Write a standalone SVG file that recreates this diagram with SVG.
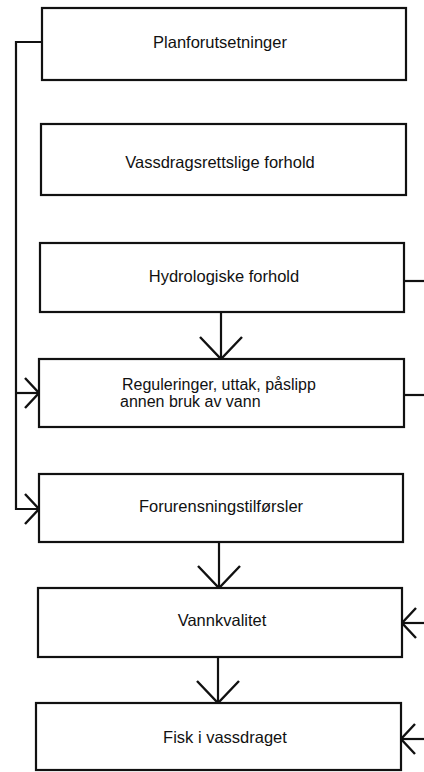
<svg xmlns="http://www.w3.org/2000/svg" width="424" height="772" viewBox="0 0 424 772">
<style>
.box{fill:#fff;stroke:#111;stroke-width:2.2}
.lbl{font-family:"Liberation Sans",Arial,sans-serif;font-size:16.5px;fill:#111;text-anchor:middle}
.lbl2{font-family:"Liberation Sans",Arial,sans-serif;font-size:16px;fill:#111}
.con{fill:none;stroke:#111;stroke-width:2.2}
</style>
<defs>
<marker id="big" markerUnits="userSpaceOnUse" viewBox="-25 -25 28 50" markerWidth="28" markerHeight="50" refX="0" refY="0" orient="auto" overflow="visible">
<path d="M-22,-21 L0,0 L-22,21" fill="none" stroke="#111" stroke-width="2.4"/>
</marker>
<marker id="small" markerUnits="userSpaceOnUse" viewBox="-18 -18 20 36" markerWidth="20" markerHeight="36" refX="0" refY="0" orient="auto" overflow="visible">
<path d="M-14,-15 L0,0 L-14,15" fill="none" stroke="#111" stroke-width="2.4"/>
</marker>
</defs>
<rect width="424" height="772" fill="#fff"/>
<g id="connectors">
<path class="con" d="M42,42 H16 V509 H39" marker-end="url(#small)"/>
<path class="con" d="M16,393 H39" marker-end="url(#small)"/>
<path class="con" d="M404,281 H424"/>
<path class="con" d="M404,395 H424"/>
<path class="con" d="M424,623 H402" marker-end="url(#small)"/>
<path class="con" d="M424,739 H401" marker-end="url(#small)"/>
<path class="con" d="M221,312 V359" marker-end="url(#big)"/>
<path class="con" d="M219,542 V588" marker-end="url(#big)"/>
<path class="con" d="M218,657 V703" marker-end="url(#big)"/>
</g>
<g id="n1"><rect class="box" x="42" y="8" width="364" height="72"/><text class="lbl" x="220" y="48">Planforutsetninger</text></g>
<g id="n2"><rect class="box" x="41" y="124" width="365" height="71"/><text class="lbl" x="220" y="168">Vassdragsrettslige forhold</text></g>
<g id="n3"><rect class="box" x="40" y="243" width="364" height="69"/><text class="lbl" x="224" y="282">Hydrologiske forhold</text></g>
<g id="n4"><rect class="box" x="39" y="359" width="365" height="68"/><text class="lbl2" x="122" y="390">Reguleringer, uttak, påslipp</text><text class="lbl2" x="120" y="407">annen bruk av vann</text></g>
<g id="n5"><rect class="box" x="39" y="474" width="364" height="68"/><text class="lbl" x="221" y="512">Forurensningstilførsler</text></g>
<g id="n6"><rect class="box" x="38" y="588" width="364" height="69"/><text class="lbl" x="222" y="626">Vannkvalitet</text></g>
<g id="n7"><rect class="box" x="36" y="703" width="365" height="67"/><text class="lbl" x="225" y="743">Fisk i vassdraget</text></g>
</svg>
